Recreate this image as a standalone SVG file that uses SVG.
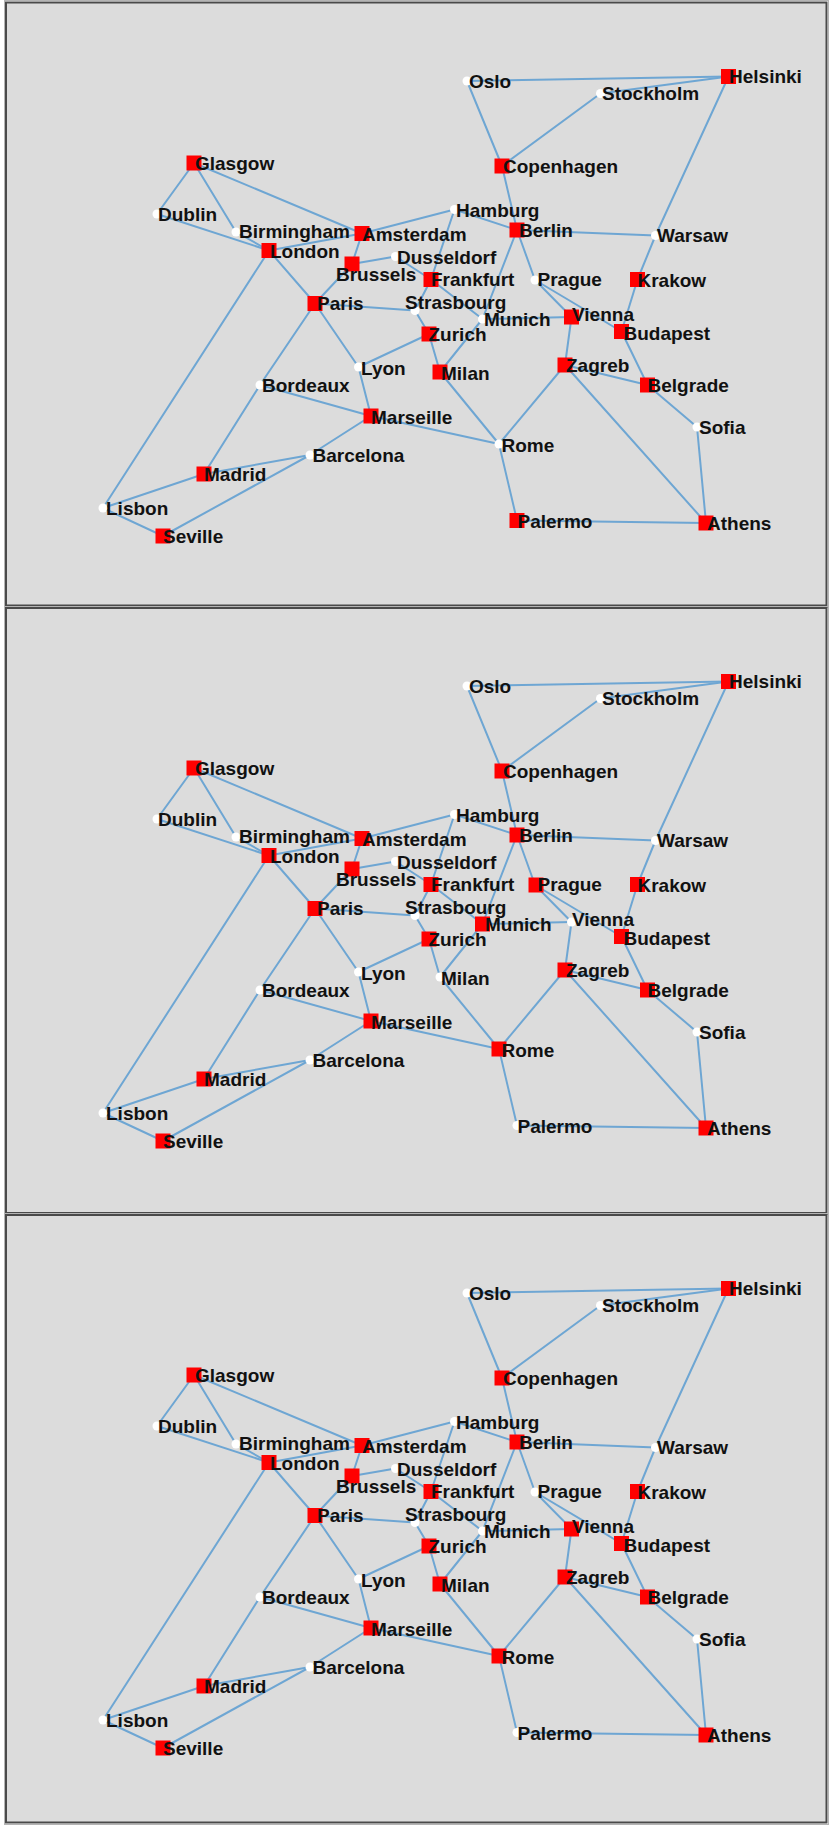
<svg xmlns="http://www.w3.org/2000/svg" width="830" height="1825" viewBox="0 0 830 1825">
<style>
.frame{fill:#dcdcdc;stroke:#4a4a4a;stroke-width:2}
.halo{fill:none;stroke:#b4b4b4;stroke-width:1}
.edges{stroke:#6ea6d3;stroke-width:2;stroke-linecap:round;fill:none}
.hub{fill:#ff0000}
.stop{fill:#ffffff}
text{font-family:"Liberation Sans",Arial,sans-serif;font-weight:bold;font-size:19px;fill:#111}
</style>
<rect x="0" y="0" width="830" height="1825" fill="#ffffff"/>
<rect class="halo" x="4.5" y="0.5" width="824" height="607"/>
<rect class="frame" x="6" y="2.5" width="820.5" height="603"/>
<rect class="halo" x="4.5" y="606.5" width="824" height="608"/>
<rect class="frame" x="6" y="608" width="820.5" height="605"/>
<rect class="halo" x="4.5" y="1213.5" width="824" height="611"/>
<rect class="frame" x="6" y="1215" width="820.5" height="607.5"/>

<g id="panel-1">
<g id="connectors-1" class="edges">
<line x1="194" y1="163" x2="157" y2="214"/>
<line x1="194" y1="163" x2="236" y2="232"/>
<line x1="194" y1="163" x2="362" y2="233.5"/>
<line x1="157" y1="214" x2="269" y2="250.5"/>
<line x1="236" y1="232" x2="269" y2="250.5"/>
<line x1="269" y1="250.5" x2="362" y2="233.5"/>
<line x1="269" y1="250.5" x2="315" y2="303.5"/>
<line x1="269" y1="250.5" x2="103" y2="508"/>
<line x1="362" y1="233.5" x2="352" y2="264"/>
<line x1="362" y1="233.5" x2="454.5" y2="209.5"/>
<line x1="352" y1="264" x2="395.5" y2="256.5"/>
<line x1="352" y1="264" x2="315" y2="303.5"/>
<line x1="395.5" y1="256.5" x2="431" y2="279.5"/>
<line x1="454.5" y1="209.5" x2="431" y2="279.5"/>
<line x1="454.5" y1="209.5" x2="517" y2="230"/>
<line x1="517" y1="230" x2="502" y2="166"/>
<line x1="502" y1="166" x2="467" y2="81"/>
<line x1="502" y1="166" x2="600.5" y2="93.5"/>
<line x1="467" y1="81" x2="728.5" y2="76.5"/>
<line x1="600.5" y1="93.5" x2="728.5" y2="76.5"/>
<line x1="728.5" y1="76.5" x2="655.5" y2="235.5"/>
<line x1="517" y1="230" x2="655.5" y2="235.5"/>
<line x1="655.5" y1="235.5" x2="637.5" y2="279.5"/>
<line x1="637.5" y1="279.5" x2="621.5" y2="331.5"/>
<line x1="517" y1="230" x2="535" y2="280"/>
<line x1="517" y1="230" x2="482.5" y2="319"/>
<line x1="535" y1="280" x2="571.5" y2="317"/>
<line x1="535" y1="280" x2="621.5" y2="331.5"/>
<line x1="431" y1="279.5" x2="415" y2="310.5"/>
<line x1="431" y1="279.5" x2="482.5" y2="319"/>
<line x1="315" y1="303.5" x2="415" y2="310.5"/>
<line x1="315" y1="303.5" x2="358.5" y2="367"/>
<line x1="315" y1="303.5" x2="260" y2="385"/>
<line x1="415" y1="310.5" x2="429" y2="334"/>
<line x1="429" y1="334" x2="358.5" y2="367"/>
<line x1="429" y1="334" x2="440" y2="372"/>
<line x1="482.5" y1="319" x2="440" y2="372"/>
<line x1="482.5" y1="319" x2="571.5" y2="317"/>
<line x1="571.5" y1="317" x2="565" y2="365"/>
<line x1="358.5" y1="367" x2="371" y2="416"/>
<line x1="260" y1="385" x2="371" y2="416"/>
<line x1="260" y1="385" x2="204" y2="474"/>
<line x1="371" y1="416" x2="310" y2="455"/>
<line x1="371" y1="416" x2="499" y2="444"/>
<line x1="440" y1="372" x2="499" y2="444"/>
<line x1="565" y1="365" x2="499" y2="444"/>
<line x1="565" y1="365" x2="647.5" y2="385"/>
<line x1="565" y1="365" x2="706" y2="523"/>
<line x1="621.5" y1="331.5" x2="647.5" y2="385"/>
<line x1="647.5" y1="385" x2="697" y2="427"/>
<line x1="697" y1="427" x2="706" y2="523"/>
<line x1="499" y1="444" x2="517" y2="520.5"/>
<line x1="517" y1="520.5" x2="706" y2="523"/>
<line x1="204" y1="474" x2="310" y2="455"/>
<line x1="204" y1="474" x2="103" y2="508"/>
<line x1="103" y1="508" x2="163" y2="536"/>
<line x1="163" y1="536" x2="310" y2="455"/>
</g>
<g id="p1-glasgow"><rect class="hub" x="186.5" y="155.5" width="15" height="15"/><text x="195" y="170">Glasgow</text></g>
<g id="p1-dublin"><circle class="stop" cx="157" cy="214" r="4.5"/><text x="158" y="221">Dublin</text></g>
<g id="p1-birmingham"><circle class="stop" cx="236" cy="232" r="4.5"/><text x="239" y="238">Birmingham</text></g>
<g id="p1-london"><rect class="hub" x="261.5" y="243" width="15" height="15"/><text x="270" y="258">London</text></g>
<g id="p1-amsterdam"><rect class="hub" x="354.5" y="226" width="15" height="15"/><text x="362" y="241">Amsterdam</text></g>
<g id="p1-brussels"><rect class="hub" x="344.5" y="256.5" width="15" height="15"/><text x="336" y="281">Brussels</text></g>
<g id="p1-dusseldorf"><circle class="stop" cx="395.5" cy="256.5" r="4.5"/><text x="397" y="263.5">Dusseldorf</text></g>
<g id="p1-hamburg"><circle class="stop" cx="454.5" cy="209.5" r="4.5"/><text x="456" y="217">Hamburg</text></g>
<g id="p1-berlin"><rect class="hub" x="509.5" y="222.5" width="15" height="15"/><text x="519" y="237">Berlin</text></g>
<g id="p1-copenhagen"><rect class="hub" x="494.5" y="158.5" width="15" height="15"/><text x="503" y="173">Copenhagen</text></g>
<g id="p1-oslo"><circle class="stop" cx="467" cy="81" r="4.5"/><text x="469" y="87.5">Oslo</text></g>
<g id="p1-stockholm"><circle class="stop" cx="600.5" cy="93.5" r="4.5"/><text x="602" y="100">Stockholm</text></g>
<g id="p1-helsinki"><rect class="hub" x="721" y="69" width="15" height="15"/><text x="729" y="83">Helsinki</text></g>
<g id="p1-warsaw"><circle class="stop" cx="655.5" cy="235.5" r="4.5"/><text x="657" y="242">Warsaw</text></g>
<g id="p1-krakow"><rect class="hub" x="630" y="272" width="15" height="15"/><text x="637.5" y="287">Krakow</text></g>
<g id="p1-prague"><circle class="stop" cx="535" cy="280" r="4.5"/><text x="537.5" y="286">Prague</text></g>
<g id="p1-frankfurt"><rect class="hub" x="423.5" y="272" width="15" height="15"/><text x="431" y="286">Frankfurt</text></g>
<g id="p1-paris"><rect class="hub" x="307.5" y="296" width="15" height="15"/><text x="317" y="310">Paris</text></g>
<g id="p1-strasbourg"><circle class="stop" cx="415" cy="310.5" r="4.5"/><text x="405" y="308.5">Strasbourg</text></g>
<g id="p1-munich"><circle class="stop" cx="482.5" cy="319" r="4.5"/><text x="484" y="325.5">Munich</text></g>
<g id="p1-vienna"><rect class="hub" x="564" y="309.5" width="15" height="15"/><text x="572" y="320.5">Vienna</text></g>
<g id="p1-zurich"><rect class="hub" x="421.5" y="326.5" width="15" height="15"/><text x="428.5" y="341">Zurich</text></g>
<g id="p1-budapest"><rect class="hub" x="614" y="324" width="15" height="15"/><text x="623.5" y="339.5">Budapest</text></g>
<g id="p1-lyon"><circle class="stop" cx="358.5" cy="367" r="4.5"/><text x="361" y="375">Lyon</text></g>
<g id="p1-milan"><rect class="hub" x="432.5" y="364.5" width="15" height="15"/><text x="441" y="379.5">Milan</text></g>
<g id="p1-zagreb"><rect class="hub" x="557.5" y="357.5" width="15" height="15"/><text x="566" y="372">Zagreb</text></g>
<g id="p1-belgrade"><rect class="hub" x="640" y="377.5" width="15" height="15"/><text x="647.5" y="392">Belgrade</text></g>
<g id="p1-bordeaux"><circle class="stop" cx="260" cy="385" r="4.5"/><text x="262" y="392">Bordeaux</text></g>
<g id="p1-marseille"><rect class="hub" x="363.5" y="408.5" width="15" height="15"/><text x="371" y="423.5">Marseille</text></g>
<g id="p1-sofia"><circle class="stop" cx="697" cy="427" r="4.5"/><text x="699" y="434">Sofia</text></g>
<g id="p1-rome"><circle class="stop" cx="499" cy="444" r="4.5"/><text x="501.5" y="452">Rome</text></g>
<g id="p1-barcelona"><circle class="stop" cx="310" cy="455" r="4.5"/><text x="312.5" y="462">Barcelona</text></g>
<g id="p1-madrid"><rect class="hub" x="196.5" y="466.5" width="15" height="15"/><text x="204" y="481">Madrid</text></g>
<g id="p1-lisbon"><circle class="stop" cx="103" cy="508" r="4.5"/><text x="106" y="515">Lisbon</text></g>
<g id="p1-palermo"><rect class="hub" x="509.5" y="513" width="15" height="15"/><text x="517.5" y="528">Palermo</text></g>
<g id="p1-athens"><rect class="hub" x="698.5" y="515.5" width="15" height="15"/><text x="707" y="530">Athens</text></g>
<g id="p1-seville"><rect class="hub" x="155.5" y="528.5" width="15" height="15"/><text x="163" y="543">Seville</text></g>
</g>

<g id="panel-2" transform="translate(0,605)">
<g id="connectors-2" class="edges">
<line x1="194" y1="163" x2="157" y2="214"/>
<line x1="194" y1="163" x2="236" y2="232"/>
<line x1="194" y1="163" x2="362" y2="233.5"/>
<line x1="157" y1="214" x2="269" y2="250.5"/>
<line x1="236" y1="232" x2="269" y2="250.5"/>
<line x1="269" y1="250.5" x2="362" y2="233.5"/>
<line x1="269" y1="250.5" x2="315" y2="303.5"/>
<line x1="269" y1="250.5" x2="103" y2="508"/>
<line x1="362" y1="233.5" x2="352" y2="264"/>
<line x1="362" y1="233.5" x2="454.5" y2="209.5"/>
<line x1="352" y1="264" x2="395.5" y2="256.5"/>
<line x1="352" y1="264" x2="315" y2="303.5"/>
<line x1="395.5" y1="256.5" x2="431" y2="279.5"/>
<line x1="454.5" y1="209.5" x2="431" y2="279.5"/>
<line x1="454.5" y1="209.5" x2="517" y2="230"/>
<line x1="517" y1="230" x2="502" y2="166"/>
<line x1="502" y1="166" x2="467" y2="81"/>
<line x1="502" y1="166" x2="600.5" y2="93.5"/>
<line x1="467" y1="81" x2="728.5" y2="76.5"/>
<line x1="600.5" y1="93.5" x2="728.5" y2="76.5"/>
<line x1="728.5" y1="76.5" x2="655.5" y2="235.5"/>
<line x1="517" y1="230" x2="655.5" y2="235.5"/>
<line x1="655.5" y1="235.5" x2="637.5" y2="279.5"/>
<line x1="637.5" y1="279.5" x2="621.5" y2="331.5"/>
<line x1="517" y1="230" x2="535" y2="280"/>
<line x1="517" y1="230" x2="482.5" y2="319"/>
<line x1="535" y1="280" x2="571.5" y2="317"/>
<line x1="535" y1="280" x2="621.5" y2="331.5"/>
<line x1="431" y1="279.5" x2="415" y2="310.5"/>
<line x1="431" y1="279.5" x2="482.5" y2="319"/>
<line x1="315" y1="303.5" x2="415" y2="310.5"/>
<line x1="315" y1="303.5" x2="358.5" y2="367"/>
<line x1="315" y1="303.5" x2="260" y2="385"/>
<line x1="415" y1="310.5" x2="429" y2="334"/>
<line x1="429" y1="334" x2="358.5" y2="367"/>
<line x1="429" y1="334" x2="440" y2="372"/>
<line x1="482.5" y1="319" x2="440" y2="372"/>
<line x1="482.5" y1="319" x2="571.5" y2="317"/>
<line x1="571.5" y1="317" x2="565" y2="365"/>
<line x1="358.5" y1="367" x2="371" y2="416"/>
<line x1="260" y1="385" x2="371" y2="416"/>
<line x1="260" y1="385" x2="204" y2="474"/>
<line x1="371" y1="416" x2="310" y2="455"/>
<line x1="371" y1="416" x2="499" y2="444"/>
<line x1="440" y1="372" x2="499" y2="444"/>
<line x1="565" y1="365" x2="499" y2="444"/>
<line x1="565" y1="365" x2="647.5" y2="385"/>
<line x1="565" y1="365" x2="706" y2="523"/>
<line x1="621.5" y1="331.5" x2="647.5" y2="385"/>
<line x1="647.5" y1="385" x2="697" y2="427"/>
<line x1="697" y1="427" x2="706" y2="523"/>
<line x1="499" y1="444" x2="517" y2="520.5"/>
<line x1="517" y1="520.5" x2="706" y2="523"/>
<line x1="204" y1="474" x2="310" y2="455"/>
<line x1="204" y1="474" x2="103" y2="508"/>
<line x1="103" y1="508" x2="163" y2="536"/>
<line x1="163" y1="536" x2="310" y2="455"/>
</g>
<g id="p2-glasgow"><rect class="hub" x="186.5" y="155.5" width="15" height="15"/><text x="195" y="170">Glasgow</text></g>
<g id="p2-dublin"><circle class="stop" cx="157" cy="214" r="4.5"/><text x="158" y="221">Dublin</text></g>
<g id="p2-birmingham"><circle class="stop" cx="236" cy="232" r="4.5"/><text x="239" y="238">Birmingham</text></g>
<g id="p2-london"><rect class="hub" x="261.5" y="243" width="15" height="15"/><text x="270" y="258">London</text></g>
<g id="p2-amsterdam"><rect class="hub" x="354.5" y="226" width="15" height="15"/><text x="362" y="241">Amsterdam</text></g>
<g id="p2-brussels"><rect class="hub" x="344.5" y="256.5" width="15" height="15"/><text x="336" y="281">Brussels</text></g>
<g id="p2-dusseldorf"><circle class="stop" cx="395.5" cy="256.5" r="4.5"/><text x="397" y="263.5">Dusseldorf</text></g>
<g id="p2-hamburg"><circle class="stop" cx="454.5" cy="209.5" r="4.5"/><text x="456" y="217">Hamburg</text></g>
<g id="p2-berlin"><rect class="hub" x="509.5" y="222.5" width="15" height="15"/><text x="519" y="237">Berlin</text></g>
<g id="p2-copenhagen"><rect class="hub" x="494.5" y="158.5" width="15" height="15"/><text x="503" y="173">Copenhagen</text></g>
<g id="p2-oslo"><circle class="stop" cx="467" cy="81" r="4.5"/><text x="469" y="87.5">Oslo</text></g>
<g id="p2-stockholm"><circle class="stop" cx="600.5" cy="93.5" r="4.5"/><text x="602" y="100">Stockholm</text></g>
<g id="p2-helsinki"><rect class="hub" x="721" y="69" width="15" height="15"/><text x="729" y="83">Helsinki</text></g>
<g id="p2-warsaw"><circle class="stop" cx="655.5" cy="235.5" r="4.5"/><text x="657" y="242">Warsaw</text></g>
<g id="p2-krakow"><rect class="hub" x="630" y="272" width="15" height="15"/><text x="637.5" y="287">Krakow</text></g>
<g id="p2-prague"><rect class="hub" x="528.5" y="272.5" width="15" height="15"/><text x="537.5" y="286">Prague</text></g>
<g id="p2-frankfurt"><rect class="hub" x="423.5" y="272" width="15" height="15"/><text x="431" y="286">Frankfurt</text></g>
<g id="p2-paris"><rect class="hub" x="307.5" y="296" width="15" height="15"/><text x="317" y="310">Paris</text></g>
<g id="p2-strasbourg"><circle class="stop" cx="415" cy="310.5" r="4.5"/><text x="405" y="308.5">Strasbourg</text></g>
<g id="p2-munich"><rect class="hub" x="475" y="311.5" width="15" height="15"/><text x="485" y="325.5">Munich</text></g>
<g id="p2-vienna"><circle class="stop" cx="571.5" cy="317" r="4.5"/><text x="572" y="320.5">Vienna</text></g>
<g id="p2-zurich"><rect class="hub" x="421.5" y="326.5" width="15" height="15"/><text x="428.5" y="341">Zurich</text></g>
<g id="p2-budapest"><rect class="hub" x="614" y="324" width="15" height="15"/><text x="623.5" y="339.5">Budapest</text></g>
<g id="p2-lyon"><circle class="stop" cx="358.5" cy="367" r="4.5"/><text x="361" y="375">Lyon</text></g>
<g id="p2-milan"><circle class="stop" cx="440" cy="372" r="4.5"/><text x="441" y="379.5">Milan</text></g>
<g id="p2-zagreb"><rect class="hub" x="557.5" y="357.5" width="15" height="15"/><text x="566" y="372">Zagreb</text></g>
<g id="p2-belgrade"><rect class="hub" x="640" y="377.5" width="15" height="15"/><text x="647.5" y="392">Belgrade</text></g>
<g id="p2-bordeaux"><circle class="stop" cx="260" cy="385" r="4.5"/><text x="262" y="392">Bordeaux</text></g>
<g id="p2-marseille"><rect class="hub" x="363.5" y="408.5" width="15" height="15"/><text x="371" y="423.5">Marseille</text></g>
<g id="p2-sofia"><circle class="stop" cx="697" cy="427" r="4.5"/><text x="699" y="434">Sofia</text></g>
<g id="p2-rome"><rect class="hub" x="491.5" y="436.5" width="15" height="15"/><text x="501.5" y="452">Rome</text></g>
<g id="p2-barcelona"><circle class="stop" cx="310" cy="455" r="4.5"/><text x="312.5" y="462">Barcelona</text></g>
<g id="p2-madrid"><rect class="hub" x="196.5" y="466.5" width="15" height="15"/><text x="204" y="481">Madrid</text></g>
<g id="p2-lisbon"><circle class="stop" cx="103" cy="508" r="4.5"/><text x="106" y="515">Lisbon</text></g>
<g id="p2-palermo"><circle class="stop" cx="517" cy="520.5" r="4.5"/><text x="517.5" y="528">Palermo</text></g>
<g id="p2-athens"><rect class="hub" x="698.5" y="515.5" width="15" height="15"/><text x="707" y="530">Athens</text></g>
<g id="p2-seville"><rect class="hub" x="155.5" y="528.5" width="15" height="15"/><text x="163" y="543">Seville</text></g>
</g>

<g id="panel-3" transform="translate(0,1212)">
<g id="connectors-3" class="edges">
<line x1="194" y1="163" x2="157" y2="214"/>
<line x1="194" y1="163" x2="236" y2="232"/>
<line x1="194" y1="163" x2="362" y2="233.5"/>
<line x1="157" y1="214" x2="269" y2="250.5"/>
<line x1="236" y1="232" x2="269" y2="250.5"/>
<line x1="269" y1="250.5" x2="362" y2="233.5"/>
<line x1="269" y1="250.5" x2="315" y2="303.5"/>
<line x1="269" y1="250.5" x2="103" y2="508"/>
<line x1="362" y1="233.5" x2="352" y2="264"/>
<line x1="362" y1="233.5" x2="454.5" y2="209.5"/>
<line x1="352" y1="264" x2="395.5" y2="256.5"/>
<line x1="352" y1="264" x2="315" y2="303.5"/>
<line x1="395.5" y1="256.5" x2="431" y2="279.5"/>
<line x1="454.5" y1="209.5" x2="431" y2="279.5"/>
<line x1="454.5" y1="209.5" x2="517" y2="230"/>
<line x1="517" y1="230" x2="502" y2="166"/>
<line x1="502" y1="166" x2="467" y2="81"/>
<line x1="502" y1="166" x2="600.5" y2="93.5"/>
<line x1="467" y1="81" x2="728.5" y2="76.5"/>
<line x1="600.5" y1="93.5" x2="728.5" y2="76.5"/>
<line x1="728.5" y1="76.5" x2="655.5" y2="235.5"/>
<line x1="517" y1="230" x2="655.5" y2="235.5"/>
<line x1="655.5" y1="235.5" x2="637.5" y2="279.5"/>
<line x1="637.5" y1="279.5" x2="621.5" y2="331.5"/>
<line x1="517" y1="230" x2="535" y2="280"/>
<line x1="517" y1="230" x2="482.5" y2="319"/>
<line x1="535" y1="280" x2="571.5" y2="317"/>
<line x1="535" y1="280" x2="621.5" y2="331.5"/>
<line x1="431" y1="279.5" x2="415" y2="310.5"/>
<line x1="431" y1="279.5" x2="482.5" y2="319"/>
<line x1="315" y1="303.5" x2="415" y2="310.5"/>
<line x1="315" y1="303.5" x2="358.5" y2="367"/>
<line x1="315" y1="303.5" x2="260" y2="385"/>
<line x1="415" y1="310.5" x2="429" y2="334"/>
<line x1="429" y1="334" x2="358.5" y2="367"/>
<line x1="429" y1="334" x2="440" y2="372"/>
<line x1="482.5" y1="319" x2="440" y2="372"/>
<line x1="482.5" y1="319" x2="571.5" y2="317"/>
<line x1="571.5" y1="317" x2="565" y2="365"/>
<line x1="358.5" y1="367" x2="371" y2="416"/>
<line x1="260" y1="385" x2="371" y2="416"/>
<line x1="260" y1="385" x2="204" y2="474"/>
<line x1="371" y1="416" x2="310" y2="455"/>
<line x1="371" y1="416" x2="499" y2="444"/>
<line x1="440" y1="372" x2="499" y2="444"/>
<line x1="565" y1="365" x2="499" y2="444"/>
<line x1="565" y1="365" x2="647.5" y2="385"/>
<line x1="565" y1="365" x2="706" y2="523"/>
<line x1="621.5" y1="331.5" x2="647.5" y2="385"/>
<line x1="647.5" y1="385" x2="697" y2="427"/>
<line x1="697" y1="427" x2="706" y2="523"/>
<line x1="499" y1="444" x2="517" y2="520.5"/>
<line x1="517" y1="520.5" x2="706" y2="523"/>
<line x1="204" y1="474" x2="310" y2="455"/>
<line x1="204" y1="474" x2="103" y2="508"/>
<line x1="103" y1="508" x2="163" y2="536"/>
<line x1="163" y1="536" x2="310" y2="455"/>
</g>
<g id="p3-glasgow"><rect class="hub" x="186.5" y="155.5" width="15" height="15"/><text x="195" y="170">Glasgow</text></g>
<g id="p3-dublin"><circle class="stop" cx="157" cy="214" r="4.5"/><text x="158" y="221">Dublin</text></g>
<g id="p3-birmingham"><circle class="stop" cx="236" cy="232" r="4.5"/><text x="239" y="238">Birmingham</text></g>
<g id="p3-london"><rect class="hub" x="261.5" y="243" width="15" height="15"/><text x="270" y="258">London</text></g>
<g id="p3-amsterdam"><rect class="hub" x="354.5" y="226" width="15" height="15"/><text x="362" y="241">Amsterdam</text></g>
<g id="p3-brussels"><rect class="hub" x="344.5" y="256.5" width="15" height="15"/><text x="336" y="281">Brussels</text></g>
<g id="p3-dusseldorf"><circle class="stop" cx="395.5" cy="256.5" r="4.5"/><text x="397" y="263.5">Dusseldorf</text></g>
<g id="p3-hamburg"><circle class="stop" cx="454.5" cy="209.5" r="4.5"/><text x="456" y="217">Hamburg</text></g>
<g id="p3-berlin"><rect class="hub" x="509.5" y="222.5" width="15" height="15"/><text x="519" y="237">Berlin</text></g>
<g id="p3-copenhagen"><rect class="hub" x="494.5" y="158.5" width="15" height="15"/><text x="503" y="173">Copenhagen</text></g>
<g id="p3-oslo"><circle class="stop" cx="467" cy="81" r="4.5"/><text x="469" y="87.5">Oslo</text></g>
<g id="p3-stockholm"><circle class="stop" cx="600.5" cy="93.5" r="4.5"/><text x="602" y="100">Stockholm</text></g>
<g id="p3-helsinki"><rect class="hub" x="721" y="69" width="15" height="15"/><text x="729" y="83">Helsinki</text></g>
<g id="p3-warsaw"><circle class="stop" cx="655.5" cy="235.5" r="4.5"/><text x="657" y="242">Warsaw</text></g>
<g id="p3-krakow"><rect class="hub" x="630" y="272" width="15" height="15"/><text x="637.5" y="287">Krakow</text></g>
<g id="p3-prague"><circle class="stop" cx="535" cy="280" r="4.5"/><text x="537.5" y="286">Prague</text></g>
<g id="p3-frankfurt"><rect class="hub" x="423.5" y="272" width="15" height="15"/><text x="431" y="286">Frankfurt</text></g>
<g id="p3-paris"><rect class="hub" x="307.5" y="296" width="15" height="15"/><text x="317" y="310">Paris</text></g>
<g id="p3-strasbourg"><circle class="stop" cx="415" cy="310.5" r="4.5"/><text x="405" y="308.5">Strasbourg</text></g>
<g id="p3-munich"><circle class="stop" cx="482.5" cy="319" r="4.5"/><text x="484" y="325.5">Munich</text></g>
<g id="p3-vienna"><rect class="hub" x="564" y="309.5" width="15" height="15"/><text x="572" y="320.5">Vienna</text></g>
<g id="p3-zurich"><rect class="hub" x="421.5" y="326.5" width="15" height="15"/><text x="428.5" y="341">Zurich</text></g>
<g id="p3-budapest"><rect class="hub" x="614" y="324" width="15" height="15"/><text x="623.5" y="339.5">Budapest</text></g>
<g id="p3-lyon"><circle class="stop" cx="358.5" cy="367" r="4.5"/><text x="361" y="375">Lyon</text></g>
<g id="p3-milan"><rect class="hub" x="432.5" y="364.5" width="15" height="15"/><text x="441" y="379.5">Milan</text></g>
<g id="p3-zagreb"><rect class="hub" x="557.5" y="357.5" width="15" height="15"/><text x="566" y="372">Zagreb</text></g>
<g id="p3-belgrade"><rect class="hub" x="640" y="377.5" width="15" height="15"/><text x="647.5" y="392">Belgrade</text></g>
<g id="p3-bordeaux"><circle class="stop" cx="260" cy="385" r="4.5"/><text x="262" y="392">Bordeaux</text></g>
<g id="p3-marseille"><rect class="hub" x="363.5" y="408.5" width="15" height="15"/><text x="371" y="423.5">Marseille</text></g>
<g id="p3-sofia"><circle class="stop" cx="697" cy="427" r="4.5"/><text x="699" y="434">Sofia</text></g>
<g id="p3-rome"><rect class="hub" x="491.5" y="436.5" width="15" height="15"/><text x="501.5" y="452">Rome</text></g>
<g id="p3-barcelona"><circle class="stop" cx="310" cy="455" r="4.5"/><text x="312.5" y="462">Barcelona</text></g>
<g id="p3-madrid"><rect class="hub" x="196.5" y="466.5" width="15" height="15"/><text x="204" y="481">Madrid</text></g>
<g id="p3-lisbon"><circle class="stop" cx="103" cy="508" r="4.5"/><text x="106" y="515">Lisbon</text></g>
<g id="p3-palermo"><circle class="stop" cx="517" cy="520.5" r="4.5"/><text x="517.5" y="528">Palermo</text></g>
<g id="p3-athens"><rect class="hub" x="698.5" y="515.5" width="15" height="15"/><text x="707" y="530">Athens</text></g>
<g id="p3-seville"><rect class="hub" x="155.5" y="528.5" width="15" height="15"/><text x="163" y="543">Seville</text></g>
</g>
</svg>
